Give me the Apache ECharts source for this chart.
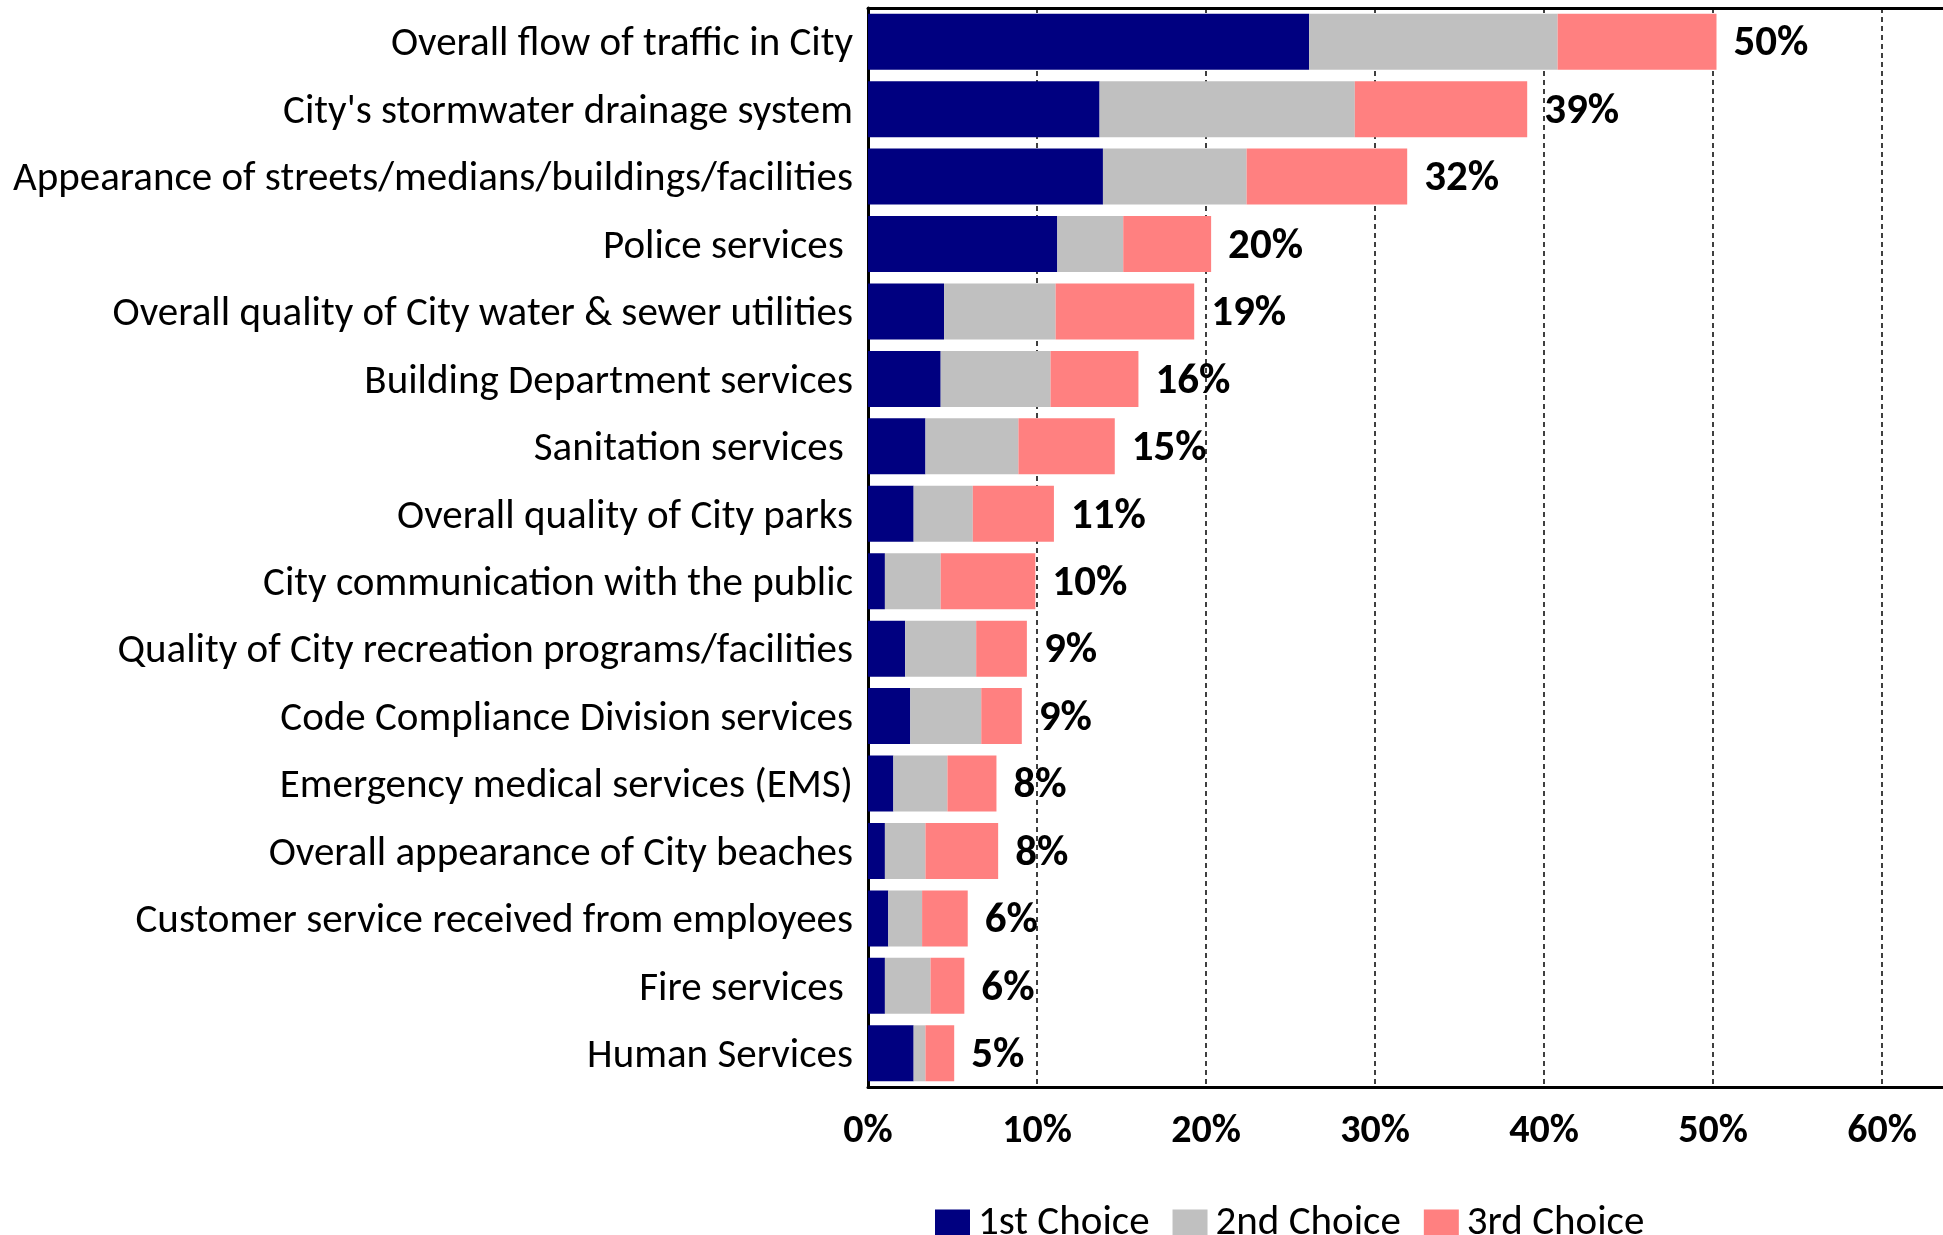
<!DOCTYPE html>
<html>
<head>
<meta charset="utf-8">
<script src="https://cdn.jsdelivr.net/npm/echarts@6/dist/echarts.min.js"></script>
<style>
html,body{margin:0;padding:0;background:#fff;}
#chart{width:1943px;height:1235px;}
</style>
</head>
<body>
<div id="chart"></div>
<script>
const categories = [
  "Overall flow of traffic in City",
  "City's stormwater drainage system",
  "Appearance of streets/medians/buildings/facilities",
  "Police services ",
  "Overall quality of City water & sewer utilities",
  "Building Department services",
  "Sanitation services ",
  "Overall quality of City parks",
  "City communication with the public",
  "Quality of City recreation programs/facilities",
  "Code Compliance Division services",
  "Emergency medical services (EMS)",
  "Overall appearance of City beaches",
  "Customer service received from employees",
  "Fire services ",
  "Human Services"
];
const firstChoice  = [26.1, 13.7, 13.9, 11.2, 4.5, 4.3, 3.4, 2.7, 1.0, 2.2, 2.5, 1.5, 1.0, 1.2, 1.0, 2.7];
const secondChoice = [14.7, 15.1, 8.5, 3.9, 6.6, 6.5, 5.5, 3.5, 3.3, 4.2, 4.2, 3.2, 2.4, 2.0, 2.7, 0.7];
const thirdChoice  = [9.4, 10.2, 9.5, 5.2, 8.2, 5.2, 5.7, 4.8, 5.6, 3.0, 2.4, 2.9, 4.3, 2.7, 2.0, 1.7];
const totalLabels  = ["50%", "39%", "32%", "20%", "19%", "16%", "15%", "11%", "10%", "9%", "9%", "8%", "8%", "6%", "6%", "5%"];
const seriesNames  = ["1st Choice", "2nd Choice", "3rd Choice"];
const tickLabels   = ["0%", "10%", "20%", "30%", "40%", "50%", "60%"];

const FONT = 'Carlito, Calibri, Lato, sans-serif';
const colors = ['#000080', '#C0C0C0', '#FF8080'];

const chart = echarts.init(document.getElementById('chart'));
const mk = (name, data, color, withLabel) => ({
  name, type: 'bar', stack: 'total', data,
  barCategoryGap: '17%',
  itemStyle: { color },
  label: withLabel ? {
    show: true, position: 'right', distance: 17,
    offset: [0, 3],
    formatter: p => totalLabels[p.dataIndex],
    fontFamily: FONT, fontWeight: 'bold', fontSize: 43, color: '#000'
  } : { show: false },
  emphasis: { disabled: true },
  animation: false
});

chart.setOption({
  animation: false,
  backgroundColor: '#fff',
  grid: { left: 868, right: 0, top: 8, bottom: 148, containLabel: false },
  legend: {
    data: seriesNames,
    left: 935, top: 1203, padding: 0,
    itemWidth: 35, itemHeight: 28, itemGap: 23,
    icon: 'rect',
    textStyle: { fontFamily: FONT, fontSize: 41, color: '#000', padding: [0, 0, 0, 3] }
  },
  xAxis: [{
    type: 'value', min: 0, max: 63.6, interval: 10,
    axisLine: { show: true, onZero: false, lineStyle: { color: '#000', width: 3 } },
    axisTick: { show: false },
    axisLabel: {
      margin: 25, fontFamily: FONT, fontWeight: 'bold', fontSize: 40, color: '#000',
      showMaxLabel: false,
      formatter: v => tickLabels[Math.round(v / 10)] || ''
    },
    splitLine: { show: true, showMinLine: false, showMaxLine: false,
      lineStyle: { color: '#000', width: 1.5, type: [5, 4] } }
  }, {
    type: 'value', position: 'top', min: 0, max: 63.6,
    axisLine: { show: true, onZero: false, lineStyle: { color: '#000', width: 3 } },
    axisTick: { show: false }, axisLabel: { show: false }, splitLine: { show: false }
  }],
  yAxis: {
    type: 'category', data: categories, inverse: true,
    axisLine: { show: true, lineStyle: { color: '#000', width: 3 } },
    axisTick: { show: false },
    axisLabel: {
      margin: 15, fontFamily: FONT, fontSize: 41, color: '#000',
      formatter: v => '{a|' + v + '}',
      rich: { a: { fontFamily: FONT, fontSize: 41, color: '#000', padding: [7, 0, 0, 0] } }
    },
    splitLine: { show: false }
  },
  series: [
    mk(seriesNames[0], firstChoice, colors[0], false),
    mk(seriesNames[1], secondChoice, colors[1], false),
    mk(seriesNames[2], thirdChoice, colors[2], true)
  ]
});
</script>
</body>
</html>
